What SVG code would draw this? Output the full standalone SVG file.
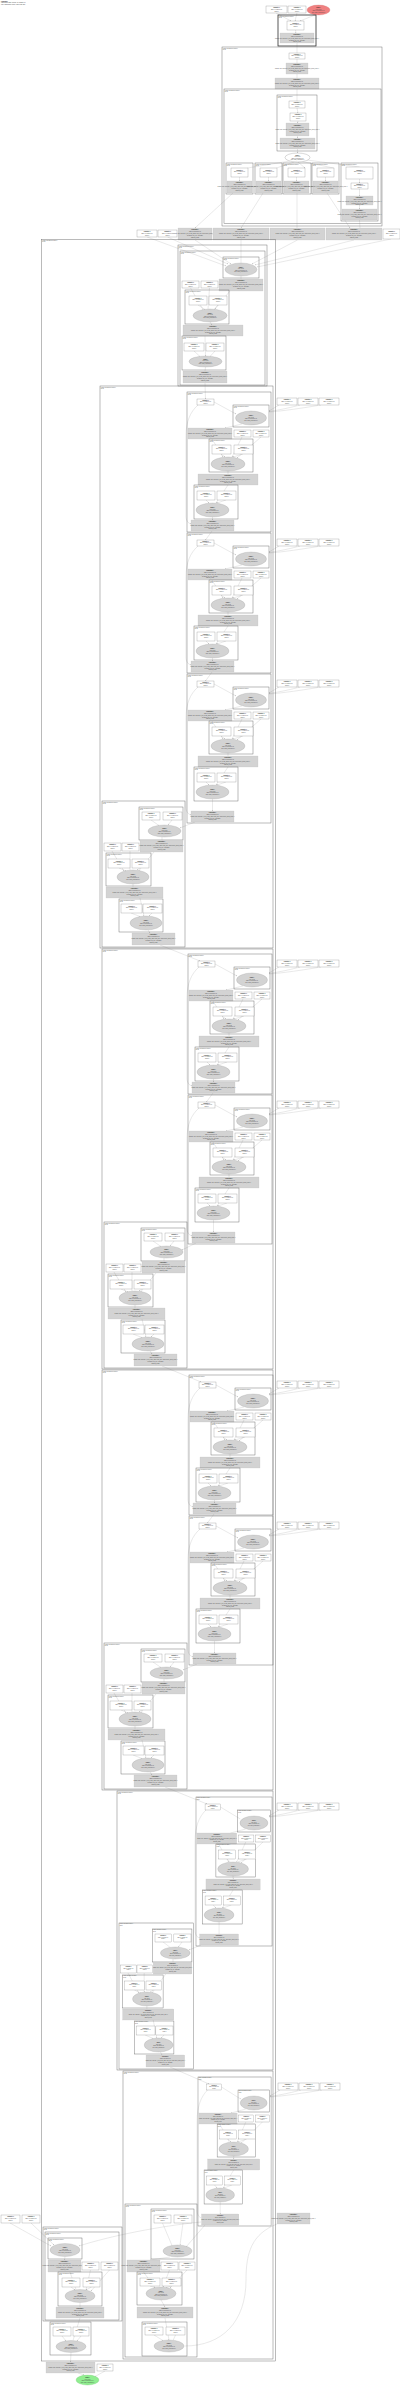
<svg xmlns="http://www.w3.org/2000/svg" width="400" height="2387" viewBox="0 0 400 2387">
<style>
.c{fill:none;stroke:#666;stroke-width:.45}
.ct{fill:none;stroke:#222;stroke-width:.75}
.w{fill:#fff;stroke:#666;stroke-width:.25}
.g{fill:#d3d3d3;stroke:#bbb;stroke-width:.2}
.e{fill:#d3d3d3;stroke:#999;stroke-width:.25}
.l{fill:none;stroke:#999;stroke-width:.22;marker-end:url(#ah)}
text{font-family:"Liberation Sans",Arial,sans-serif;font-size:1.15px;fill:#444}
.m{text-anchor:middle}
.b{font-weight:bold;fill:#222}
.tt{font-size:1.3px}
</style>
<defs>
<marker id="ah" viewBox="0 0 10 10" refX="10" refY="5" markerWidth="4" markerHeight="4" orient="auto" markerUnits="strokeWidth"><path d="M0,0L10,5L0,10z" fill="#999"/></marker>
<g id="tw"><text class="m"><tspan class="b" x="0" y="1.8">Parameter 0</tspan><tspan x="0" y="3.4">f32[64,64,3,3]{3,2,1,0}</tspan><tspan x="0" y="5">param.1</tspan></text></g>
<g id="tg"><text class="m"><tspan class="b" x="0" y="1.8">convolution.4</tspan><tspan x="0" y="3.7">f32[1,64,56,56]{3,2,1,0}</tspan><tspan x="0" y="5.6">window={size=3x3 pad=1_1x1_1} dim_labels=b01f_01io-&gt;b01f feature_group_count=1</tspan><tspan x="0" y="7.5">metadata={op_type="Conv2D"}</tspan><tspan x="0" y="9.4">backend_config</tspan></text></g>
<g id="te"><text class="m"><tspan class="b" x="0" y="0">fusion.4</tspan><tspan x="0" y="1.6">kind=kLoop</tspan><tspan x="0" y="3.2">f32[1,64,56,56]{3,2,1,0}</tspan><tspan x="0" y="4.8">calls=fused_computation.4</tspan></text></g>
<g id="tc"><text><tspan x="0.8" y="1.5">Fused expression for fusion.4</tspan><tspan x="0.8" y="2.9">kLoop</tspan></text></g>

<g id="bN">
<use href="#tc"/>
<rect class="w" x="10" y="7" width="17" height="6"/><use href="#tw" x="18.5" y="7"/>
<rect class="c" x="46" y="13" width="36" height="22"/><use href="#tc" x="46" y="13"/>
<ellipse class="e" cx="64" cy="26" rx="15.5" ry="7"/><use href="#te" x="64" y="24.1"/>
<rect class="g" x="1" y="36" width="44" height="11"/><use href="#tg" x="23" y="36"/>
<rect class="w" x="47" y="38" width="17" height="7"/><use href="#tw" x="55.5" y="38.5"/>
<rect class="w" x="66" y="38" width="16" height="7"/><use href="#tw" x="74" y="38.5"/>
<rect class="c" x="22" y="47" width="44" height="33"/><use href="#tc" x="22" y="47"/>
<rect class="w" x="25" y="53" width="19" height="9"/><use href="#tw" x="34.5" y="54"/>
<rect class="w" x="47" y="53" width="19" height="9"/><use href="#tw" x="56.5" y="54"/>
<ellipse class="e" cx="41" cy="72" rx="17" ry="7"/><use href="#te" x="41" y="70.1"/>
<rect class="g" x="11" y="82" width="60" height="11"/><use href="#tg" x="41" y="82"/>
<rect class="c" x="7" y="93" width="44" height="34"/><use href="#tc" x="7" y="93"/>
<rect class="w" x="10" y="99" width="18" height="9"/><use href="#tw" x="19" y="100"/>
<rect class="w" x="30" y="99" width="19" height="9"/><use href="#tw" x="39.5" y="100"/>
<ellipse class="e" cx="25.5" cy="118" rx="16.5" ry="7"/><use href="#te" x="25.5" y="116.1"/>
</g>
<g id="bE">
<path class="l" d="M27,10 L49,22"/>
<path class="l" d="M55,32 L38,36"/>
<path class="l" d="M25,47 L36,65"/>
<path class="l" d="M55,45 L45,65"/>
<path class="l" d="M74,45 L50,66"/>
<path class="l" d="M34,62 L38,65"/>
<path class="l" d="M56,62 L46,65"/>
<path class="l" d="M41,79 L41,82"/>
<path class="l" d="M41,93 L29,111"/>
<path class="l" d="M19,108 L22,111"/>
<path class="l" d="M39,108 L30,111"/>
</g>
<g id="bS"><rect class="c" width="84" height="140"/><use href="#bN"/><rect class="g" x="4" y="128" width="43" height="11"/><use href="#tg" x="25.5" y="128"/></g>
<g id="bSE"><use href="#bE"/><path class="l" d="M25.5,125 L25.5,128"/><path class="l" d="M11,13 C3,20 -1,30 -1,44 L-1,124 C-1,129 1,131 4,132"/></g>
<g id="bL"><rect class="c" width="84" height="149"/><use href="#bN"/><rect class="g" x="4" y="137" width="43" height="11"/><use href="#tg" x="25.5" y="137"/></g>
<g id="bLE"><use href="#bE"/><path class="l" d="M25.5,125 L25.5,137"/><path class="l" d="M11,13 C3,20 -1,30 -1,44 L-1,133 C-1,138 1,140 4,141"/></g>

<g id="sN">
<rect class="c" width="83" height="146"/><use href="#tc"/>
<rect class="c" x="37" y="6" width="44" height="33"/><use href="#tc" x="37" y="6"/>
<rect class="w" x="40" y="11" width="18" height="8"/><use href="#tw" x="49" y="11.5"/>
<rect class="w" x="61" y="11" width="19" height="8"/><use href="#tw" x="70.5" y="11.5"/>
<ellipse class="e" cx="62.5" cy="30" rx="16.5" ry="6"/><use href="#te" x="62.5" y="28.1"/>
<rect class="g" x="38" y="39" width="43" height="12"/><use href="#tg" x="59.5" y="39.5"/>
<rect class="w" x="2" y="42" width="17" height="8"/><use href="#tw" x="10.5" y="42.5"/>
<rect class="w" x="20" y="42" width="17" height="8"/><use href="#tw" x="28.5" y="42.5"/>
<rect class="c" x="4" y="52" width="45" height="33"/><use href="#tc" x="4" y="52"/>
<rect class="w" x="6" y="58" width="22" height="9"/><use href="#tw" x="17" y="59"/>
<rect class="w" x="30" y="58" width="17" height="9"/><use href="#tw" x="38.5" y="59"/>
<ellipse class="e" cx="31" cy="76" rx="16" ry="7"/><use href="#te" x="31" y="74.1"/>
<rect class="g" x="4" y="86" width="57" height="11"/><use href="#tg" x="32.5" y="86"/>
<rect class="c" x="17" y="98" width="44" height="33"/><use href="#tc" x="17" y="98"/>
<rect class="w" x="19" y="103" width="21" height="9"/><use href="#tw" x="29.5" y="104"/>
<rect class="w" x="41" y="103" width="19" height="9"/><use href="#tw" x="50.5" y="104"/>
<ellipse class="e" cx="44" cy="122" rx="16" ry="7"/><use href="#te" x="44" y="120.1"/>
<rect class="g" x="30" y="132" width="43" height="12"/><use href="#tg" x="51.5" y="132.5"/>
</g>
<g id="sE">
<path class="l" d="M49,19 L57,24.5"/><path class="l" d="M70,19 L66,24"/><path class="l" d="M60,36 L60,39"/>
<path class="l" d="M52,51 L37,69.5"/><path class="l" d="M10,50 L22,70"/><path class="l" d="M28,50 L28,69"/>
<path class="l" d="M17,67 L24,70"/><path class="l" d="M38,67 L35,69"/><path class="l" d="M31,83 L31,86"/>
<path class="l" d="M38,97 L42,115"/><path class="l" d="M29,112 L38,115.5"/><path class="l" d="M50,112 L47,115"/>
<path class="l" d="M46,129 L48,132"/>
</g>
<g id="rN"><rect class="w" width="20" height="7"/><use href="#tw" x="10" y=".5"/><rect class="w" x="21" width="20" height="7"/><use href="#tw" x="31" y=".5"/><rect class="w" x="42" width="20" height="7"/><use href="#tw" x="52" y=".5"/></g>
<g id="rE"><path class="l" d="M2,7 L-8,13"/><path class="l" d="M23,7 C12,10 2,12 -8,13.5"/><path class="l" d="M44,7 C26,10 6,13 -8,14"/></g>
</defs>

<g id="edges">
<path class="l" d="M276,13 L291,21"/><path class="l" d="M297,13 L295,21"/><path class="l" d="M315,15 L300,21"/>
<path class="l" d="M295.5,30 L296,33"/><path class="l" d="M297,43 L297,53"/><path class="l" d="M297,59 L297,63"/>
<path class="l" d="M297,74 L297,78"/><path class="l" d="M297,89 L297,101"/><path class="l" d="M297,108 L298,113"/>
<path class="l" d="M298,121 L297.5,123"/><path class="l" d="M297.5,136 L297.5,138"/><path class="l" d="M297.5,149 L297.5,153"/>
<path class="l" d="M290,161 L247.5,168"/><path class="l" d="M294,162 L276.5,168"/><path class="l" d="M298,162 L305,168"/>
<path class="l" d="M302,161.5 L333.5,168"/><path class="l" d="M307,160 L359.5,167"/>
<path class="l" d="M239.5,177 L239.5,181"/><path class="l" d="M268.5,177 L268.5,181"/><path class="l" d="M296.5,177 L296.5,181"/><path class="l" d="M325.5,177 L325.5,181"/>
<path class="l" d="M359.5,179 L359.5,183"/><path class="l" d="M359.5,189 L359.5,196"/><path class="l" d="M359.5,205 L359.5,209"/>
<path class="l" d="M233,193 L195,228"/><path class="l" d="M263,193 L241,228"/><path class="l" d="M297,193 L297,228"/><path class="l" d="M327,193 L350,228"/><path class="l" d="M359.5,220 L360,228"/>
<path class="l" d="M147,237 L226,266"/><path class="l" d="M167.5,237 L228,264"/><path class="l" d="M195,240 L231,264"/>
<path class="l" d="M241,240 L241,263"/><path class="l" d="M297.5,240 L252,264"/><path class="l" d="M354,240 L255,265"/><path class="l" d="M391,239 L257,267"/>
<path class="l" d="M241,276 L241,279"/><path class="l" d="M230,291 L215,309"/><path class="l" d="M190.5,288 L203,309.5"/>
<path class="l" d="M209.5,288 L208,309"/><path class="l" d="M198,305 L205,309.5"/><path class="l" d="M218,305 L214,309.5"/>
<path class="l" d="M210,322 L212,325"/><path class="l" d="M205,336 L205.5,356"/><path class="l" d="M194,351 L200,356.5"/>
<path class="l" d="M215,351 L210,356.5"/><path class="l" d="M205.5,367 L205,371"/><path class="l" d="M205,383 L205.5,399"/>
<use href="#bSE" transform="translate(187,392)"/>
<use href="#bSE" transform="translate(187,533)"/>
<use href="#bLE" transform="translate(187,674)"/>
<use href="#bSE" transform="translate(188,954)"/>
<use href="#bLE" transform="translate(188,1095)"/>
<use href="#bSE" transform="translate(189,1375)"/>
<use href="#bLE" transform="translate(189,1516)"/>
<use href="#bLE" transform="translate(196,1797) scale(.905,1)"/>
<use href="#bLE" transform="translate(198,2077) scale(.87,1)"/>
<use href="#sE" transform="translate(102,801)"/>
<use href="#sE" transform="translate(104,1222)"/>
<use href="#sE" transform="translate(104,1643)"/>
<use href="#sE" transform="translate(119,1923) scale(.9,1)"/>
<use href="#rE" x="277" y="398"/><use href="#rE" x="277" y="539"/><use href="#rE" x="277" y="680"/>
<use href="#rE" x="277" y="960"/><use href="#rE" x="277" y="1101"/><use href="#rE" x="277" y="1381"/>
<use href="#rE" x="277" y="1522"/><use href="#rE" x="277" y="1803"/><use href="#rE" x="278" y="2083"/>
<path class="l" d="M212,531 L205.5,540"/><path class="l" d="M212,672 L205.5,681"/><path class="l" d="M195,822 L180,828"/>
<path class="l" d="M160,945 L200,961"/><path class="l" d="M213,1093 L206.5,1102"/><path class="l" d="M196,1243 L182,1250"/>
<path class="l" d="M162,1366 L201,1382"/><path class="l" d="M214,1514 L207.5,1523"/><path class="l" d="M197,1664 L183,1670"/>
<path class="l" d="M165,1787 L207,1804"/><path class="l" d="M201,1945 L189,1950"/><path class="l" d="M170,2067 L209,2084"/>
<path class="l" d="M205,2225 L186,2247"/><path class="l" d="M162.5,2223 L172,2245.5"/><path class="l" d="M183,2223 L180,2245"/>
<path class="l" d="M170,2257 L150,2260"/><path class="l" d="M143.5,2272 L155,2287.5"/><path class="l" d="M169.5,2270 L163,2287"/>
<path class="l" d="M187,2270 L170,2288"/><path class="l" d="M150,2286 L155,2287.5"/><path class="l" d="M171.5,2286 L166,2287.5"/>
<path class="l" d="M161,2300 L165,2307"/><path class="l" d="M165,2318 L169,2340"/><path class="l" d="M154,2335 L163,2340.5"/>
<path class="l" d="M175.5,2335 L173,2340.5"/>
<path class="l" d="M277,2224 C252,2234 246,2252 246,2280 C246,2322 222,2346 184.5,2346"/>
<path class="l" d="M201,2222 C160,2226 110,2236 79,2246"/>
<path class="l" d="M10,2223 L51,2246"/><path class="l" d="M31,2223 L54,2245"/>
<path class="l" d="M65,2256.5 L64.5,2260"/><path class="l" d="M70,2272 L76,2289.5"/><path class="l" d="M90.5,2270 L86,2290"/>
<path class="l" d="M109.5,2270 L91,2291"/><path class="l" d="M71,2287 L75,2290"/><path class="l" d="M91.5,2287 L86,2290"/>
<path class="l" d="M80,2302.5 L80,2307"/><path class="l" d="M80,2318 L73,2340.5"/><path class="l" d="M62,2336 L66,2341"/>
<path class="l" d="M81,2336 L77,2341"/><path class="l" d="M71,2352.5 L70.5,2362"/><path class="l" d="M78,2373 L84,2375"/>
<path class="l" d="M105,2371 L95,2376.5"/>
</g>

<g id="title"><text class="tt"><tspan class="b" x="1" y="1.8">HloModule</tspan><tspan x="1" y="3.4">computation main, fusions: 42, params: 61</tspan><tspan x="1" y="5">entry computation layout: f32[1,3,224,224]</tspan></text></g>

<g id="in1"><rect class="w" x="266" y="6" width="21" height="7"/><use href="#tw" x="276.5" y="6.5"/></g>
<g id="in2"><rect class="w" x="288" y="6" width="18" height="7"/><use href="#tw" x="297" y="6.5"/></g>
<g id="input"><ellipse cx="318.5" cy="10" rx="11.5" ry="5" fill="#f08080" stroke="#c66" stroke-width=".25"/><use href="#te" x="318.5" y="8.1"/></g>
<g id="top"><rect class="ct" x="278" y="15" width="38" height="31"/><use href="#tc" x="278" y="15"/>
<rect class="w" x="287" y="21" width="17" height="9"/><use href="#tw" x="295.5" y="22"/>
<rect class="g" x="280" y="33" width="34" height="10"/><use href="#tg" x="297" y="33"/></g>

<g id="stem"><rect class="c" x="222" y="47" width="160" height="179"/><use href="#tc" x="222" y="47"/>
<rect class="w" x="289" y="53" width="16" height="6"/><use href="#tw" x="297" y="53"/>
<rect class="g" x="286" y="63" width="22" height="11"/><use href="#tg" x="297" y="63"/>
<rect class="g" x="275" y="78" width="44" height="11"/><use href="#tg" x="297" y="78"/>
<rect class="c" x="224" y="89" width="157" height="134.5"/><use href="#tc" x="224" y="89"/>
<rect class="c" x="277" y="95" width="40" height="56"/><use href="#tc" x="277" y="95"/>
<rect class="w" x="289" y="101" width="16" height="7"/><use href="#tw" x="297" y="101.5"/>
<rect class="w" x="290" y="113" width="16" height="8"/><use href="#tw" x="298" y="113.5"/>
<rect class="g" x="286" y="123" width="23" height="13"/><use href="#tg" x="297.5" y="124"/>
<rect class="g" x="280" y="138" width="35" height="11"/><use href="#tg" x="297.5" y="138"/>
<ellipse class="w" cx="297.5" cy="157.5" rx="12.5" ry="4.5"/><use href="#te" x="297.5" y="155.6"/>
<rect class="c" x="226" y="163" width="27" height="31"/><use href="#tc" x="226" y="163"/>
<rect class="w" x="231" y="168" width="17" height="9"/><use href="#tw" x="239.5" y="169"/>
<rect class="g" x="227" y="181" width="25" height="12"/><use href="#tg" x="239.5" y="181.5"/>
<rect class="c" x="255" y="163" width="27" height="31"/><use href="#tc" x="255" y="163"/>
<rect class="w" x="260" y="168" width="17" height="9"/><use href="#tw" x="268.5" y="169"/>
<rect class="g" x="256" y="181" width="25" height="12"/><use href="#tg" x="268.5" y="181.5"/>
<rect class="c" x="283" y="163" width="28" height="31"/><use href="#tc" x="283" y="163"/>
<rect class="w" x="288" y="168" width="17" height="9"/><use href="#tw" x="296.5" y="169"/>
<rect class="g" x="284" y="181" width="25" height="12"/><use href="#tg" x="296.5" y="181.5"/>
<rect class="c" x="312" y="163" width="27" height="31"/><use href="#tc" x="312" y="163"/>
<rect class="w" x="317" y="168" width="17" height="9"/><use href="#tw" x="325.5" y="169"/>
<rect class="g" x="313" y="181" width="25" height="12"/><use href="#tg" x="325.5" y="181.5"/>
<rect class="c" x="341" y="163" width="37" height="58"/><use href="#tc" x="341" y="163"/>
<rect class="w" x="346" y="167" width="27" height="12"/><use href="#tw" x="359.5" y="169"/>
<rect class="w" x="351" y="183" width="17" height="6"/><use href="#tw" x="359.5" y="183"/>
<rect class="g" x="346" y="196" width="27" height="9"/><use href="#tg" x="359.5" y="196"/>
<rect class="g" x="342" y="209" width="35" height="11"/><use href="#tg" x="359.5" y="209"/></g>

<g id="row">
<rect class="w" x="137" y="230" width="20" height="7"/><use href="#tw" x="147" y="230.5"/>
<rect class="w" x="158" y="230" width="19" height="7"/><use href="#tw" x="167.5" y="230.5"/>
<rect class="g" x="178" y="228" width="34" height="12"/><use href="#tg" x="195" y="228.5"/>
<rect class="g" x="213" y="228" width="56" height="12"/><use href="#tg" x="241" y="228.5"/>
<rect class="g" x="270" y="228" width="55" height="12"/><use href="#tg" x="297.5" y="228.5"/>
<rect class="g" x="326" y="228" width="56" height="12"/><use href="#tg" x="354" y="228.5"/>
<rect class="w" x="383" y="229" width="17" height="10"/><use href="#tw" x="391.5" y="230.5"/>
</g>

<g id="outer"><rect class="c" x="41.5" y="239.5" width="234" height="2121.5"/><use href="#tc" x="41.5" y="239.5"/></g>

<g id="clusterA"><rect class="c" x="178" y="245" width="89" height="141"/><use href="#tc" x="178" y="245"/>
<rect class="c" x="180" y="251" width="85" height="134"/><use href="#tc" x="180" y="251"/>
<rect class="c" x="223" y="257" width="36" height="21"/><use href="#tc" x="223" y="257"/>
<ellipse class="e" cx="241" cy="269.5" rx="16" ry="6.5"/><use href="#te" x="241" y="267.6"/>
<rect class="g" x="219" y="279" width="44" height="12"/><use href="#tg" x="241" y="279.5"/>
<rect class="w" x="182" y="281" width="17" height="7"/><use href="#tw" x="190.5" y="281.5"/>
<rect class="w" x="201" y="281" width="17" height="7"/><use href="#tw" x="209.5" y="281.5"/>
<rect class="c" x="185" y="290" width="44" height="34"/><use href="#tc" x="185" y="290"/>
<rect class="w" x="189" y="296" width="18" height="9"/><use href="#tw" x="198" y="297"/>
<rect class="w" x="209" y="296" width="18" height="9"/><use href="#tw" x="218" y="297"/>
<ellipse class="e" cx="210" cy="315.5" rx="17" ry="6.5"/><use href="#te" x="210" y="313.6"/>
<rect class="g" x="183" y="325" width="60" height="11"/><use href="#tg" x="213" y="325"/>
<rect class="c" x="182" y="336" width="44" height="34"/><use href="#tc" x="182" y="336"/>
<rect class="w" x="184" y="343" width="20" height="8"/><use href="#tw" x="194" y="343.5"/>
<rect class="w" x="206" y="343" width="18" height="8"/><use href="#tw" x="215" y="343.5"/>
<ellipse class="e" cx="205.5" cy="361.5" rx="16.5" ry="5.5"/><use href="#te" x="205.5" y="359.6"/>
<rect class="g" x="183" y="371" width="44" height="12"/><use href="#tg" x="205" y="371.5"/></g>

<g id="stageB"><rect class="c" x="100" y="386" width="173" height="562"/><use href="#tc" x="100" y="386"/></g>
<g id="stageC"><rect class="c" x="102" y="949" width="171" height="420"/><use href="#tc" x="102" y="949"/></g>
<g id="stageD"><rect class="c" x="102" y="1370" width="171" height="420"/><use href="#tc" x="102" y="1370"/></g>
<g id="stageE"><rect class="c" x="117" y="1791" width="156" height="279"/><use href="#tc" x="117" y="1791"/></g>
<g id="stageF"><rect class="c" x="123" y="2071" width="150" height="288"/><use href="#tc" x="123" y="2071"/></g>

<g id="block1"><use href="#bS" transform="translate(187,392)"/></g>
<g id="block2"><use href="#bS" transform="translate(187,533)"/></g>
<g id="block3"><use href="#bL" transform="translate(187,674)"/></g>
<g id="block4"><use href="#bS" transform="translate(188,954)"/></g>
<g id="block5"><use href="#bL" transform="translate(188,1095)"/></g>
<g id="block6"><use href="#bS" transform="translate(189,1375)"/></g>
<g id="block7"><use href="#bL" transform="translate(189,1516)"/></g>
<g id="block8"><use href="#bL" transform="translate(196,1797) scale(.905,1)"/></g>
<g id="block9"><use href="#bL" transform="translate(198,2077) scale(.87,1)"/></g>
<g id="down1"><use href="#sN" transform="translate(102,801)"/></g>
<g id="down2"><use href="#sN" transform="translate(104,1222)"/></g>
<g id="down3"><use href="#sN" transform="translate(104,1643)"/></g>
<g id="down4"><use href="#sN" transform="translate(119,1923) scale(.9,1)"/></g>
<g id="params1"><use href="#rN" x="277" y="398"/></g>
<g id="params2"><use href="#rN" x="277" y="539"/></g>
<g id="params3"><use href="#rN" x="277" y="680"/></g>
<g id="params4"><use href="#rN" x="277" y="960"/></g>
<g id="params5"><use href="#rN" x="277" y="1101"/></g>
<g id="params6"><use href="#rN" x="277" y="1381"/></g>
<g id="params7"><use href="#rN" x="277" y="1522"/></g>
<g id="params8"><use href="#rN" x="277" y="1803"/></g>
<g id="params9"><use href="#rN" x="278" y="2083"/></g>

<g id="down5"><rect class="c" x="125" y="2204" width="72" height="153"/><use href="#tc" x="125" y="2204"/>
<rect class="c" x="151" y="2209" width="43" height="50"/><use href="#tc" x="151" y="2209"/>
<rect class="w" x="154" y="2215" width="17" height="8"/><use href="#tw" x="162.5" y="2215.5"/>
<rect class="w" x="174" y="2215" width="18" height="8"/><use href="#tw" x="183" y="2215.5"/>
<ellipse class="e" cx="177.5" cy="2251" rx="14.5" ry="6"/><use href="#te" x="177.5" y="2249.1"/>
<rect class="g" x="127" y="2260" width="33" height="12"/><use href="#tg" x="143.5" y="2260.5"/>
<rect class="w" x="161" y="2262" width="17" height="8"/><use href="#tw" x="169.5" y="2262.5"/>
<rect class="w" x="179" y="2262" width="16" height="8"/><use href="#tw" x="187" y="2262.5"/>
<rect class="c" x="137" y="2272" width="45" height="33"/><use href="#tc" x="137" y="2272"/>
<rect class="w" x="140" y="2278" width="20" height="8"/><use href="#tw" x="150" y="2278.5"/>
<rect class="w" x="162" y="2278" width="19" height="8"/><use href="#tw" x="171.5" y="2278.5"/>
<ellipse class="e" cx="161" cy="2293.5" rx="15" ry="6.5"/><use href="#te" x="161" y="2291.6"/>
<rect class="g" x="137" y="2307" width="56" height="11"/><use href="#tg" x="165" y="2307"/>
<rect class="c" x="142" y="2322" width="45" height="34"/><use href="#tc" x="142" y="2322"/>
<rect class="w" x="145" y="2327" width="18" height="8"/><use href="#tw" x="154" y="2327.5"/>
<rect class="w" x="166" y="2327" width="19" height="8"/><use href="#tw" x="175.5" y="2327.5"/>
<ellipse class="e" cx="169" cy="2346" rx="15" ry="6"/><use href="#te" x="169" y="2344.1"/></g>

<g id="side"><rect class="w" x="1" y="2215" width="19" height="8"/><use href="#tw" x="10.5" y="2215.5"/>
<rect class="w" x="22" y="2215" width="18" height="8"/><use href="#tw" x="31" y="2215.5"/>
<rect class="g" x="277" y="2213" width="33" height="11"/><use href="#tg" x="293.5" y="2213"/></g>

<g id="head"><rect class="c" x="43" y="2227" width="79" height="94"/><use href="#tc" x="43" y="2227"/>
<rect class="c" x="45" y="2232" width="74" height="88"/><use href="#tc" x="45" y="2232"/>
<rect class="c" x="48" y="2238" width="34" height="21"/><use href="#tc" x="48" y="2238"/>
<ellipse class="e" cx="65" cy="2250" rx="15" ry="6.5"/><use href="#te" x="65" y="2248.1"/>
<rect class="g" x="48" y="2260" width="33" height="12"/><use href="#tg" x="64.5" y="2260.5"/>
<rect class="w" x="82" y="2262" width="17" height="8"/><use href="#tw" x="90.5" y="2262.5"/>
<rect class="w" x="101" y="2262" width="17" height="8"/><use href="#tw" x="109.5" y="2262.5"/>
<rect class="c" x="58" y="2272" width="44" height="34"/><use href="#tc" x="58" y="2272"/>
<rect class="w" x="62" y="2278" width="18" height="9"/><use href="#tw" x="71" y="2279"/>
<rect class="w" x="83" y="2278" width="17" height="9"/><use href="#tw" x="91.5" y="2279"/>
<ellipse class="e" cx="80" cy="2296" rx="15" ry="6.5"/><use href="#te" x="80" y="2294.1"/>
<rect class="g" x="56" y="2307" width="48" height="11"/><use href="#tg" x="80" y="2307"/></g>
<g id="final"><rect class="c" x="50" y="2322" width="41" height="33"/><use href="#tc" x="50" y="2322"/>
<rect class="w" x="53" y="2327" width="18" height="9"/><use href="#tw" x="62" y="2328"/>
<rect class="w" x="73" y="2327" width="16" height="9"/><use href="#tw" x="81" y="2328"/>
<ellipse class="e" cx="71" cy="2346.5" rx="15" ry="6"/><use href="#te" x="71" y="2344.6"/></g>
<g id="root"><rect class="g" x="46" y="2362" width="49" height="11"/><use href="#tg" x="70.5" y="2362"/></g>
<g id="rootp"><rect class="w" x="97" y="2364" width="16" height="7"/><use href="#tw" x="105" y="2364.5"/></g>
<g id="output"><ellipse cx="87.5" cy="2380" rx="11.5" ry="5" fill="#90ee90" stroke="#6b6" stroke-width=".25"/><use href="#te" x="87.5" y="2378.1"/></g>
</svg>
